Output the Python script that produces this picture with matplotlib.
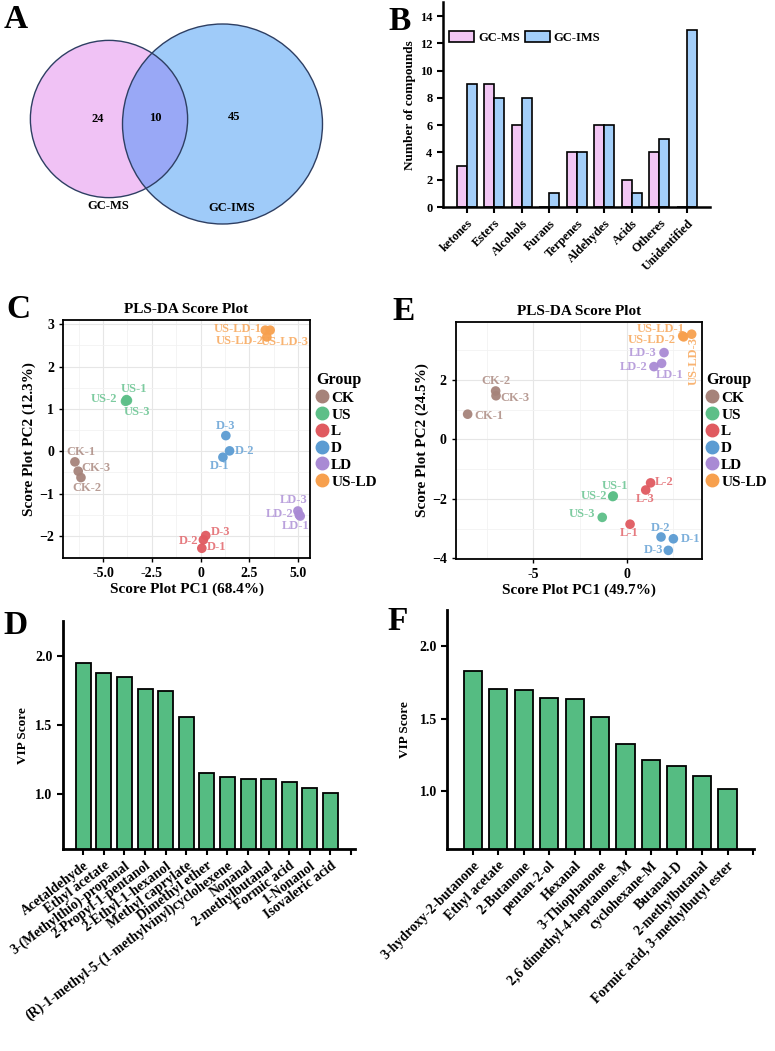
import matplotlib.pyplot as plt
from matplotlib.patches import Circle
from matplotlib.lines import Line2D
import numpy as np

plt.rcParams['font.family'] = ['Liberation Serif', 'DejaVu Serif']
plt.rcParams['font.weight'] = 'bold'
plt.rcParams['axes.labelweight'] = 'bold'
plt.rcParams['axes.titleweight'] = 'bold'

# ---- data ----
# A : venn
venn_names = ['GC-MS', 'GC-IMS']
venn_counts = [24, 10, 45]   # only GC-MS, both, only GC-IMS

# B : compound classes
b_classes = ['ketones', 'Esters', 'Alcohols', 'Furans', 'Terpenes',
             'Aldehydes', 'Acids', 'Otheres', 'Unidentified']
b_gcms = [3, 9, 6, 0, 4, 6, 2, 4, 0]
b_gcims = [9, 8, 8, 1, 4, 6, 1, 5, 13]

# C / E : PLS-DA scores
groups = ['CK', 'US', 'L', 'D', 'LD', 'US-LD']
group_colors = ['#A6837A', '#5DBF88', '#E05A60', '#5B9BD2', '#A98AD4', '#F7A04E']

c_group = ['CK', 'CK', 'CK', 'US', 'US', 'US', 'L', 'L', 'L',
           'D', 'D', 'D', 'LD', 'LD', 'LD', 'US-LD', 'US-LD', 'US-LD']
c_names = ['CK-1', 'CK-3', 'CK-2', 'US-1', 'US-2', 'US-3', 'D-3', 'D-2', 'D-1',
           'D-3', 'D-2', 'D-1', 'LD-3', 'LD-2', 'LD-1', 'US-LD-1', 'US-LD-2', 'US-LD-3']
c_pc1 = [-6.44, -6.27, -6.13, -3.80, -3.85, -3.75, 0.26, 0.14, 0.06,
         1.29, 1.48, 1.14, 4.98, 5.05, 5.10, 3.31, 3.39, 3.56]
c_pc2 = [-0.25, -0.47, -0.62, 1.22, 1.18, 1.20, -1.99, -2.09, -2.29,
         0.37, 0.01, -0.14, -1.41, -1.50, -1.53, 2.86, 2.70, 2.86]

e_group = ['CK', 'CK', 'CK', 'US', 'US', 'US', 'L', 'L', 'L',
           'D', 'D', 'D', 'LD', 'LD', 'LD', 'US-LD', 'US-LD', 'US-LD']
e_names = ['CK-2', 'CK-3', 'CK-1', 'US-1', 'US-2', 'US-3', 'L-2', 'L-3', 'L-1',
           'D-2', 'D-1', 'D-3', 'LD-3', 'LD-2', 'LD-1', 'US-LD-1', 'US-LD-2', 'US-LD-3']
e_pc1 = [-7.02, -7.00, -8.52, -0.72, -0.75, -1.31, 1.28, 1.02, 0.18,
         1.84, 2.50, 2.23, 2.00, 1.46, 1.87, 3.00, 3.05, 3.48]
e_pc2 = [1.63, 1.47, 0.85, -1.90, -1.92, -2.62, -1.46, -1.70, -2.85,
         -3.28, -3.34, -3.73, 2.92, 2.45, 2.56, 3.48, 3.45, 3.54]

# D / F : VIP scores
d_names = ['Acetaldehyde', 'Ethyl acetate', '3-(Methylthio)-propanal',
           '2-Propyl-1-pentanol', '2-Ethyl-1-hexanol', 'Methyl caprylate',
           'Dimethyl ether', '(R)-1-methyl-5-(1-methylvinyl)cyclohexene',
           'Nonanal', '2-methylbutanal', 'Formic acid', '1-Nonanol', 'Isovaleric acid']
d_vip = [1.95, 1.873, 1.846, 1.759, 1.742, 1.559, 1.15, 1.12, 1.105, 1.105, 1.09, 1.04, 1.005]

f_names = ['3-hydroxy-2-butanone', 'Ethyl acetate', '2-Butanone', 'pentan-2-ol',
           'Hexanal', '3-Thiophanone', '2,6 dimethyl-4-heptanone-M', 'cyclohexane-M',
           'Butanal-D', '2-methylbutanal', 'Formic acid, 3-methylbutyl ester']
f_vip = [1.832, 1.708, 1.697, 1.644, 1.637, 1.515, 1.329, 1.216, 1.175, 1.108, 1.017]

# ---- layout helpers ----
W, H = 775, 1051
fig = plt.figure(figsize=(W / 100, H / 100), dpi=100)


def px_axes(left, top, right, bottom):
    return fig.add_axes([left / W, 1 - bottom / H, (right - left) / W, (bottom - top) / H])


def letter(x, y, s):
    fig.text(x / W, 1 - y / H, s, fontsize=24, fontweight='bold', ha='center', va='center')


# ---- A : venn ----
axA = px_axes(0, 0, 380, 230)
axA.set_xlim(0, 380)
axA.set_ylim(230, 0)
axA.axis('off')
k = 100 / np.sqrt(venn_counts[1] + venn_counts[2])
r_ms = k * np.sqrt(venn_counts[0] + venn_counts[1])
r_ims = k * np.sqrt(venn_counts[1] + venn_counts[2])
c_ms = (109, 119)
c_ims = (222.5, 124)
left_c = Circle(c_ms, r_ms, facecolor='#F0C2F5', edgecolor='none')
right_c = Circle(c_ims, r_ims, facecolor='#9FCBF9', edgecolor='none')
axA.add_patch(left_c)
axA.add_patch(right_c)
inter = Circle(c_ms, r_ms, facecolor='#99A8F6', edgecolor='none')
axA.add_patch(inter)
inter.set_clip_path(right_c)
axA.add_patch(Circle(c_ms, r_ms, facecolor='none', edgecolor='#2E3F63', lw=1))
axA.add_patch(Circle(c_ims, r_ims, facecolor='none', edgecolor='#2E3F63', lw=1))
for xy, n in zip([(98, 119), (155, 118), (234, 117)], venn_counts):
    axA.text(xy[0], xy[1], str(n), fontsize=9, ha='center', va='center')
axA.text(108, 206, venn_names[0], fontsize=9, ha='center', va='center')
axA.text(232, 208, venn_names[1], fontsize=9, ha='center', va='center')
letter(16, 20, 'A')

# ---- B : bars ----
axB = px_axes(443, 2.4, 710, 207)
x = np.arange(len(b_classes))
bw = 0.364
axB.bar(x - bw / 2, b_gcms, bw, color='#F2C6F4', edgecolor='black', lw=1.2, label='GC-MS')
axB.bar(x + bw / 2, b_gcims, bw, color='#A3CEF9', edgecolor='black', lw=1.2, label='GC-IMS')
axB.set_xlim(-0.87, 8.84)
axB.set_ylim(0, 15)
axB.set_yticks(range(0, 15, 2))
axB.set_xticks(x)
axB.set_xticklabels(b_classes, rotation=45, ha='right', rotation_mode='anchor', fontsize=9)
axB.tick_params(axis='y', labelsize=9, width=1.5, length=4)
axB.tick_params(axis='x', width=1.5, length=4)
axB.spines[['top', 'right']].set_visible(False)
axB.spines[['left', 'bottom']].set_linewidth(1.8)
axB.set_ylabel('Number of compounds', fontsize=9.5, labelpad=3)
axB.legend(loc='upper left', bbox_to_anchor=(0.0, 0.89), ncol=2, frameon=False, fontsize=9,
           handlelength=2.0, handleheight=1.0, handletextpad=0.3, columnspacing=0.4,
           borderaxespad=0.1)
letter(400, 22, 'B')


# ---- C / E : score plots ----
def score_plot(ax, grp, names, pc1, pc2, offsets, xlim, ylim, xt, xtl, yt, xminor, yminor, xlab, ylab):
    ax.set_xlim(*xlim)
    ax.set_ylim(*ylim)
    ax.set_xticks(xt)
    ax.set_xticklabels(xtl)
    ax.set_yticks(yt)
    ax.set_xticks(xminor, minor=True)
    ax.set_yticks(yminor, minor=True)
    ax.grid(which='major', color='#E6E6E6', lw=0.8)
    ax.grid(which='minor', color='#F2F2F2', lw=0.6)
    ax.set_axisbelow(True)
    ax.tick_params(which='minor', length=0)
    ax.tick_params(which='major', labelsize=10, length=3, width=1)
    for s in ax.spines.values():
        s.set_linewidth(1.3)
    for g, col in zip(groups, group_colors):
        idx = [i for i, gg in enumerate(grp) if gg == g]
        ax.scatter([pc1[i] for i in idx], [pc2[i] for i in idx], s=48, color=col,
                   edgecolor='none', alpha=0.95, zorder=3)
    for i, nm in enumerate(names):
        col = group_colors[groups.index(grp[i])]
        dx, dy, rot = offsets[i]
        ax.annotate(nm, (pc1[i], pc2[i]), xytext=(dx, dy), textcoords='offset pixels',
                    ha='center', va='center', fontsize=9, color=col, alpha=0.8,
                    rotation=rot, zorder=4)
    ax.set_title('PLS-DA Score Plot', fontsize=11, pad=5)
    ax.set_xlabel(xlab, fontsize=11, labelpad=2)
    ax.set_ylabel(ylab, fontsize=11, labelpad=2)
    handles = [Line2D([], [], marker='o', ls='none', color=c, markersize=9) for c in group_colors]
    return handles


c_off = [(6, 10, 0), (18, 3, 0), (6, -10, 0), (7, 11, 0), (-22, 2, 0), (9, -12, 0),
         (15, 4, 0), (-15, -1, 0), (15, 1, 0), (0, 10, 0), (15, 0, 0), (-3, -9, 0),
         (-4, 11, 0), (-20, 1, 0), (-5, -10, 0), (-28, 1, 0), (-27, -4, 0), (15, -12, 0)]
axC = px_axes(63, 320, 310, 558)
hC = score_plot(axC, c_group, c_names, c_pc1, c_pc2, c_off, (-7.05, 5.6), (-2.52, 3.1),
                [-5, -2.5, 0, 2.5, 5], ['-5.0', '-2.5', '0', '2.5', '5.0'], range(-2, 4),
                [-6.25, -3.75, -1.25, 1.25, 3.75], [-1.5, -0.5, 0.5, 1.5, 2.5],
                'Score Plot PC1 (68.4%)', 'Score Plot PC2 (12.3%)')
fig.legend(hC, groups, title='Group', loc='upper left', bbox_to_anchor=(316 / W, 1 - 372 / H),
           frameon=False, fontsize=11, title_fontproperties={'size': 11.5, 'weight': 'bold'},
           handlelength=0.8, handletextpad=0.2, labelspacing=0.2, alignment='left',
           borderaxespad=0, borderpad=0)
letter(18, 310, 'C')

e_off = [(0, 10, 0), (19, -2, 0), (21, -2, 0), (2, 10, 0), (-19, 1, 0), (-20, 3, 0),
         (14, 1, 0), (-1, -9, 0), (-1, -9, 0), (0, 9, 0), (17, 0, 0), (-15, 0, 0),
         (-21, 0, 0), (-20, 0, 0), (8, -12, 0), (-22, 7, 0), (-32, -3, 0), (2, -27, 90)]
axE = px_axes(455.7, 322, 702.3, 559)
hE = score_plot(axE, e_group, e_names, e_pc1, e_pc2, e_off, (-9.16, 4.05), (-4.02, 3.95),
                [-5, 0], ['-5', '0'], [-4, -2, 0, 2],
                [-7.5, -2.5, 2.5], [-3, -1, 1, 3],
                'Score Plot PC1 (49.7%)', 'Score Plot PC2 (24.5%)')
fig.legend(hE, groups, title='Group', loc='upper left', bbox_to_anchor=(706 / W, 1 - 372 / H),
           frameon=False, fontsize=11, title_fontproperties={'size': 11.5, 'weight': 'bold'},
           handlelength=0.8, handletextpad=0.2, labelspacing=0.2, alignment='left',
           borderaxespad=0, borderpad=0)
letter(404, 312, 'E')


# ---- D / F : VIP bars ----
def vip_plot(ax, names, vals, right_pad, rot, ypad):
    xs = np.arange(len(names))
    ax.bar(xs, vals, 0.72, bottom=0, color='#55BC82', edgecolor='black', lw=1.3)
    ax.set_xlim(-1, len(names) + right_pad)
    ax.set_ylim(0.6, 2.25)
    ax.set_yticks([1.0, 1.5, 2.0])
    ax.set_xticks(range(len(names) + 1))
    ax.set_xticklabels(names + [''], rotation=rot, ha='right', rotation_mode='anchor', fontsize=10)
    ax.tick_params(axis='x', width=1.5, length=4, pad=3)
    ax.tick_params(axis='y', width=1.5, length=4, labelsize=10)
    ax.spines[['top', 'right']].set_visible(False)
    ax.spines[['left', 'bottom']].set_linewidth(2)
    ax.set_ylabel('VIP Score', fontsize=9.5, labelpad=ypad)


axD = px_axes(62.7, 621, 355, 849.3)
vip_plot(axD, d_names, d_vip, 0.19, 37, 4)
letter(16, 626, 'D')

axF = px_axes(447.3, 610, 754.3, 849.3)
vip_plot(axF, f_names, f_vip, 0.05, 45, 6)
letter(398, 622, 'F')

fig.savefig('out.png', dpi=100)
